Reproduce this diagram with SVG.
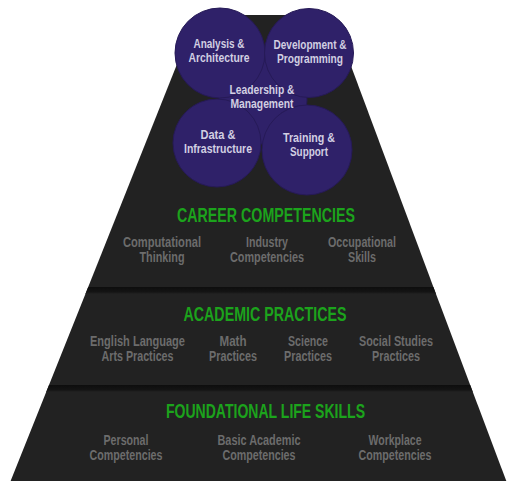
<svg xmlns="http://www.w3.org/2000/svg" width="507" height="485" viewBox="0 0 507 485">
<defs>
<linearGradient id="sep" x1="0" y1="0" x2="0" y2="1">
<stop offset="0" stop-color="#0d0d0d"/>
<stop offset="0.7" stop-color="#141414"/>
<stop offset="1" stop-color="#222222"/>
</linearGradient>
</defs>
<style>
.tier{fill:#222222}
.sep{fill:url(#sep)}
.c{fill:#2f2169;stroke:#261a57;stroke-width:1}
text{font-family:"Liberation Sans","Arial",sans-serif;font-weight:bold;text-anchor:middle}
.ct{font-size:13px;fill:#d2cfe2}
.h{font-size:21px;fill:#1ca31c}
.s{font-size:14px;fill:#6c6c6c}
</style>
<rect width="507" height="485" fill="#ffffff"/>
<g id="tier-career">
<polygon class="tier" points="196.6,15 332,15 433.4,287 88.2,287"/>
<text class="h" x="266" y="222" textLength="178" lengthAdjust="spacingAndGlyphs">CAREER COMPETENCIES</text>
<text class="s" x="162" y="247" textLength="78" lengthAdjust="spacingAndGlyphs">Computational</text>
<text class="s" x="162" y="262" textLength="45" lengthAdjust="spacingAndGlyphs">Thinking</text>
<text class="s" x="267" y="247" textLength="42" lengthAdjust="spacingAndGlyphs">Industry</text>
<text class="s" x="267" y="262" textLength="74" lengthAdjust="spacingAndGlyphs">Competencies</text>
<text class="s" x="362" y="247" textLength="68" lengthAdjust="spacingAndGlyphs">Occupational</text>
<text class="s" x="362" y="262" textLength="28" lengthAdjust="spacingAndGlyphs">Skills</text>
</g>
<g id="tier-academic">
<polygon class="tier" points="88.2,287 433.4,287 470.2,385 49,385"/>
<polygon class="sep" points="88.2,287 433.4,287 436,294 85.4,294"/>
<text class="h" x="265" y="321" textLength="163" lengthAdjust="spacingAndGlyphs">ACADEMIC PRACTICES</text>
<text class="s" x="137.5" y="346" textLength="95" lengthAdjust="spacingAndGlyphs">English Language</text>
<text class="s" x="137.5" y="361" textLength="72" lengthAdjust="spacingAndGlyphs">Arts Practices</text>
<text class="s" x="233" y="346" textLength="27" lengthAdjust="spacingAndGlyphs">Math</text>
<text class="s" x="233" y="361" textLength="48" lengthAdjust="spacingAndGlyphs">Practices</text>
<text class="s" x="308" y="346" textLength="40" lengthAdjust="spacingAndGlyphs">Science</text>
<text class="s" x="308" y="361" textLength="48" lengthAdjust="spacingAndGlyphs">Practices</text>
<text class="s" x="396" y="346" textLength="74" lengthAdjust="spacingAndGlyphs">Social Studies</text>
<text class="s" x="396" y="361" textLength="48" lengthAdjust="spacingAndGlyphs">Practices</text>
</g>
<g id="tier-foundational">
<polygon class="tier" points="49,385 470.2,385 506.3,481 10.6,481"/>
<polygon class="sep" points="49,385 470.2,385 472.8,392 46.2,392"/>
<text class="h" x="265.5" y="418" textLength="199" lengthAdjust="spacingAndGlyphs">FOUNDATIONAL LIFE SKILLS</text>
<text class="s" x="126" y="444.5" textLength="45" lengthAdjust="spacingAndGlyphs">Personal</text>
<text class="s" x="126" y="459.5" textLength="73" lengthAdjust="spacingAndGlyphs">Competencies</text>
<text class="s" x="259" y="444.5" textLength="83" lengthAdjust="spacingAndGlyphs">Basic Academic</text>
<text class="s" x="259" y="459.5" textLength="73" lengthAdjust="spacingAndGlyphs">Competencies</text>
<text class="s" x="395" y="444.5" textLength="53" lengthAdjust="spacingAndGlyphs">Workplace</text>
<text class="s" x="395" y="459.5" textLength="73" lengthAdjust="spacingAndGlyphs">Competencies</text>
</g>
<g id="leadership">
<circle class="c" cx="263" cy="100" r="44"/>
</g>
<g id="analysis">
<circle class="c" cx="220" cy="53" r="45"/>
<text class="ct" x="219" y="48" textLength="51" lengthAdjust="spacingAndGlyphs">Analysis &amp;</text>
<text class="ct" x="219" y="61.5" textLength="61" lengthAdjust="spacingAndGlyphs">Architecture</text>
</g>
<g id="development">
<circle class="c" cx="309" cy="53" r="44.5"/>
<text class="ct" x="310" y="49" textLength="73" lengthAdjust="spacingAndGlyphs">Development &amp;</text>
<text class="ct" x="310" y="62.5" textLength="66" lengthAdjust="spacingAndGlyphs">Programming</text>
</g>
<g id="data">
<circle class="c" cx="217" cy="143" r="44"/>
<text class="ct" x="218" y="139" textLength="35" lengthAdjust="spacingAndGlyphs">Data &amp;</text>
<text class="ct" x="218" y="152.5" textLength="68" lengthAdjust="spacingAndGlyphs">Infrastructure</text>
</g>
<g id="training">
<circle class="c" cx="307" cy="150" r="45"/>
<text class="ct" x="309" y="142" textLength="52" lengthAdjust="spacingAndGlyphs">Training &amp;</text>
<text class="ct" x="309" y="155.5" textLength="38" lengthAdjust="spacingAndGlyphs">Support</text>
</g>
<g id="leadership-label">
<text class="ct" x="262" y="94" textLength="65" lengthAdjust="spacingAndGlyphs">Leadership &amp;</text>
<text class="ct" x="262" y="107.5" textLength="63" lengthAdjust="spacingAndGlyphs">Management</text>
</g>
<g id="connectors"/>
</svg>
